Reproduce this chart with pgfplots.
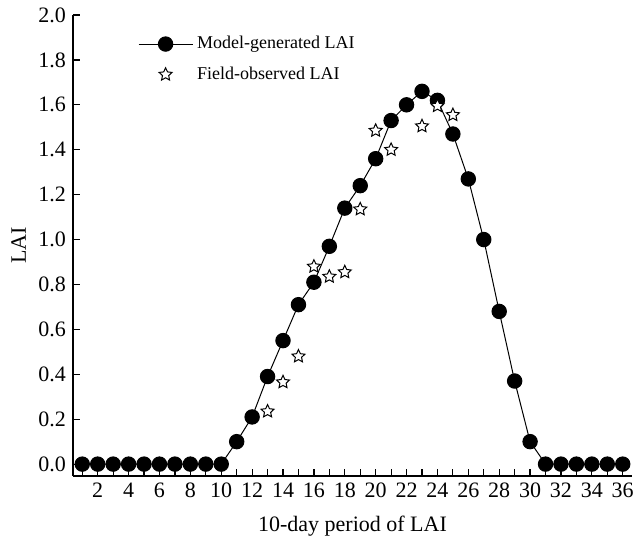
\documentclass[border=0pt]{standalone}
\usepackage{fontspec}
\setmainfont{Liberation Serif}
\usepackage{pgfplots}
\pgfplotsset{compat=1.18}
% outlined five-point star
\pgfdeclareplotmark{ostar}{%
    \pgfpathmoveto{\pgfpointpolar{90}{\pgfplotmarksize}}%
    \pgfpathlineto{\pgfpointpolar{126}{0.48\pgfplotmarksize}}%
    \pgfpathlineto{\pgfpointpolar{162}{\pgfplotmarksize}}%
    \pgfpathlineto{\pgfpointpolar{198}{0.48\pgfplotmarksize}}%
    \pgfpathlineto{\pgfpointpolar{234}{\pgfplotmarksize}}%
    \pgfpathlineto{\pgfpointpolar{270}{0.48\pgfplotmarksize}}%
    \pgfpathlineto{\pgfpointpolar{306}{\pgfplotmarksize}}%
    \pgfpathlineto{\pgfpointpolar{342}{0.48\pgfplotmarksize}}%
    \pgfpathlineto{\pgfpointpolar{18}{\pgfplotmarksize}}%
    \pgfpathlineto{\pgfpointpolar{54}{0.48\pgfplotmarksize}}%
    \pgfpathclose
    \pgfusepathqfillstroke
}
\pgfplotsset{
    linelegend/.style={legend image code/.code={
        \draw[##1, mark repeat=2, mark phase=2] plot coordinates {(0pt,0pt) (13.5pt,0pt) (27pt,0pt)};
    }},
    starlegend/.style={legend image code/.code={
        \draw[##1] plot coordinates {(13.5pt,0pt)};
    }},
}

\begin{document}
\begin{tikzpicture}
\begin{axis}[
    scale only axis,
    width=279.5pt, height=230.5pt,
    font=\fontsize{11}{13}\selectfont,
    axis x line=bottom, axis y line=left,
    axis line style={-, line width=0.6pt},
    xmin=0.4, xmax=36.6,
    ymin=-0.053, ymax=2.0,
    xtick={2,4,...,36},
    minor xtick={1,3,...,35},
    ytick={0,0.2,...,2.0},
    yticklabel style={/pgf/number format/.cd, fixed, fixed zerofill, precision=1},
    /pgf/number format/assume math mode=true,
    tick align=inside,
    major tick length=3.5pt, minor tick length=3.5pt,
    tick style={black, line width=0.6pt},
    xlabel={10-day period of LAI},
    ylabel={LAI},
    xlabel style={at={(rel axis cs:0.5,0)}, anchor=base, yshift=-27.5pt},
    ylabel style={at={(rel axis cs:0,0.5)}, anchor=base, yshift=23.5pt},
    legend style={draw=none, fill=none, at={(0.105,0.972)}, anchor=north west,
        font=\fontsize{9}{11}\selectfont, row sep=3.5pt,
        legend cell align=left},
]
\addplot[black, line width=0.5pt, mark=*, mark size=3.6pt, linelegend] coordinates {
    (1,0) (2,0) (3,0) (4,0) (5,0) (6,0) (7,0) (8,0) (9,0) (10,0)
    (11,0.10) (12,0.21) (13,0.39) (14,0.55) (15,0.71) (16,0.81)
    (17,0.97) (18,1.14) (19,1.24) (20,1.36) (21,1.53) (22,1.60)
    (23,1.66) (24,1.62) (25,1.47) (26,1.27) (27,1.00) (28,0.68)
    (29,0.37) (30,0.10) (31,0) (32,0) (33,0) (34,0) (35,0) (36,0)
};
\addlegendentry{Model-generated LAI}
\addplot[only marks, black, mark=ostar, mark size=3.4pt,
    mark options={fill=white, line width=0.5pt}, starlegend] coordinates {
    (13,0.235) (14,0.365) (15,0.48) (16,0.88) (17,0.835) (18,0.855)
    (19,1.135) (20,1.485) (21,1.40) (23,1.505) (24,1.595) (25,1.555)
};
\addlegendentry{Field-observed LAI}
\coordinate (bl) at (rel axis cs:0,0);
\coordinate (tr) at (rel axis cs:1,1);
\end{axis}
\pgfresetboundingbox
\path ([xshift=-36.5pt,yshift=-30.5pt]bl) rectangle ([xshift=1pt,yshift=7.5pt]tr);
\end{tikzpicture}
\end{document}
